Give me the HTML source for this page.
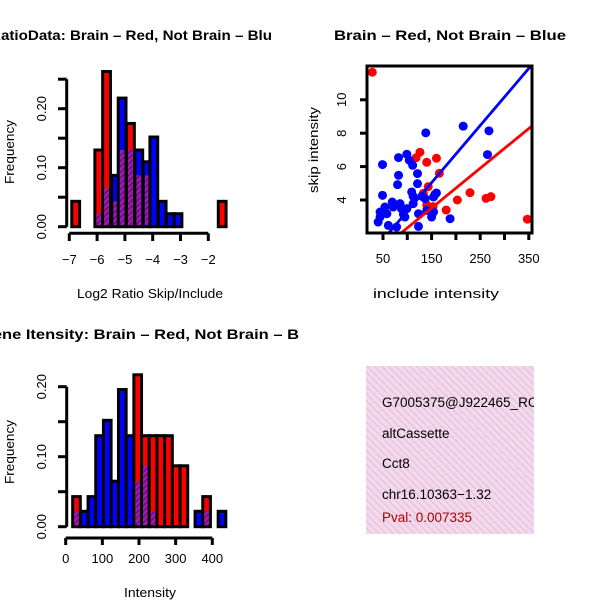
<!DOCTYPE html>
<html><head><meta charset="utf-8"><style>
html,body{margin:0;padding:0;background:#fff}
svg{display:block;font-family:"Liberation Sans",sans-serif}
</style></head><body>
<svg id="c" width="600" height="600" viewBox="0 0 600 600" xmlns="http://www.w3.org/2000/svg">
<defs>
<pattern id="purp" patternUnits="userSpaceOnUse" width="4" height="4" patternTransform="rotate(45)">
<rect width="4" height="4" fill="#7a0a90"/><rect width="2" height="4" fill="#a020b0"/></pattern>
<pattern id="pink" patternUnits="userSpaceOnUse" width="5" height="5" patternTransform="rotate(-45)">
<rect width="5" height="5" fill="#f9d4f4"/><rect width="1.3" height="5" fill="#d6d0c8"/></pattern>
<clipPath id="scClip"><rect x="367" y="66" width="165" height="167"/></clipPath>
<clipPath id="boxClip"><rect x="366" y="366" width="168" height="168"/></clipPath>
</defs>
<g id="p1"></g>
<g id="p2"></g>
<g id="p3"></g>
<g>
<rect x="366" y="366" width="168" height="168" fill="url(#pink)"/>
<g clip-path="url(#boxClip)" font-size="13.5">
<text x="382" y="407">G7005375@J922465_RC</text>
<text x="382" y="438">altCassette</text>
<text x="382" y="468">Cct8</text>
<text x="382" y="499">chr16.10363−1.32</text>
<text x="382" y="522" fill="#b00000">Pval: 0.007335</text>
</g></g>
</svg>
<script>
// ---- ratio histogram data ----
const ratioBins = [-6.91,-6.08,-5.80,-5.47,-5.24,-4.94,-4.64,-4.34,-4.10,-3.80,-3.50,-3.23,-1.64];
const ratioRed  = [0.043,0.13,0.263,0.043,0.13,0.175,0.087,0.087,0,0,0,0,0.043];
const ratioBlue = [0,0.022,0.065,0.087,0.218,0.13,0.13,0.11,0.152,0.043,0.022,0.022,0];
const ratioXTicks = [-7,-6,-5,-4,-3,-2];
const ratioYTicks = [0,0.05,0.10,0.15,0.20,0.25];
const ratioYLabels = ["0.00","0.10","0.20"];
// ---- intensity histogram data ----
const intBins = [19,40,61,82,103,124,144,165,186,207,228,249,270,291,312,332,353,374,395,416];
const intRed  = [0.043,0,0,0,0,0,0,0,0.217,0.13,0.13,0.13,0.13,0.087,0.087,0,0,0.043,0,0];
const intBlue = [0.022,0.022,0.043,0.13,0.152,0.065,0.196,0.13,0.065,0.087,0.022,0,0,0,0,0,0.022,0.022,0,0.022];
const intXTicks = [0,100,200,300,400];
const intYTicks = [0,0.05,0.10,0.15,0.20];
const intYLabels = ["0.00","0.10","0.20"];
// ---- scatter data ----
const redX = [28,126,118,140,160,166,143,140,153,180,203,229,262,272,347,133];
const redY = [11.65,6.86,6.53,6.26,6.5,5.6,4.8,3.7,3.6,3.4,4.0,4.44,4.1,4.2,2.85,4.4];
const blueX = [49,82,99,104,111,138,215,268,265,82,80,121,121,49,109,112,130,157,160,137,154,69,54,44,58,88,99,92,123,140,154,150,188,40,61,78,123,95,71,85,112,44];
const blueY = [6.12,6.54,6.74,6.38,6.08,8.02,8.42,8.14,6.72,5.48,4.92,5.58,4.98,4.28,4.48,4.22,4.22,4.34,4.42,4.08,4.18,3.88,3.58,3.28,3.18,3.48,3.48,3.14,3.18,3.38,3.28,2.98,2.88,2.68,2.48,2.38,2.42,2.98,3.58,3.78,3.78,2.98];
const redFit = [-0.05,0.0238];
const blueFit = [-0.09,0.0342];
const scXTicks = [50,100,150,200,250,300,350];
const scXLabels = ["50","150","250","350"];
const scYTicks = [4,6,8,10];

const NS="http://www.w3.org/2000/svg";
function mk(p,tag,a){const e=document.createElementNS(NS,tag);for(const k in a)e.setAttribute(k,a[k]);p.appendChild(e);return e;}
function txt(p,x,y,s,size,opt){const e=mk(p,'text',{x:x,y:y,'font-size':size,'text-anchor':(opt&&opt.anchor)||'middle'});if(opt&&opt.rot)e.setAttribute('transform','rotate(-90 '+x+' '+y+')');if(opt&&opt.bold)e.setAttribute('font-weight','bold');if(opt&&opt.len){e.setAttribute('textLength',opt.len);e.setAttribute('lengthAdjust','spacingAndGlyphs');}e.textContent=s;return e;}

function hist(g,bins,red,blue,bw,xs,ys,name){
  for(let i=0;i<bins.length;i++){
    const x0=xs(bins[i]),x1=xs(bins[i]+bw),w=x1-x0,y0=ys(0);
    const r=red[i],b=blue[i];
    if(r<=0&&b<=0)continue;
    const mx=Math.max(r,b),mn=Math.min(r,b);
    const col=r>=b?'#ff0000':'#0000ff';
    const bar=mk(g,'rect',{x:x0,y:ys(mx),width:w,height:y0-ys(mx),fill:col,stroke:'#000','stroke-width':3});
    
    
    if(mn>0){
      const pr=mk(g,'rect',{x:x0+1.5,y:ys(mn),width:w-3,height:y0-ys(mn)-1.5,fill:'url(#purp)'});
      
      
    }
  }
}

// Panel 1
(function(){
  const g=document.getElementById('p1');
  const xs=v=>69.3+(v+7)*27.8, ys=f=>226.7-f/0.05*29.5;
  hist(g,ratioBins,ratioRed,ratioBlue,0.28,xs,ys,'ratio');
  mk(g,'line',{x1:66.7,y1:ys(0.25),x2:66.7,y2:ys(0),stroke:'#000','stroke-width':3});
  ratioYTicks.forEach(t=>mk(g,'line',{x1:58,y1:ys(t),x2:66.7,y2:ys(t),stroke:'#000','stroke-width':3}));
  ratioYLabels.forEach(s=>txt(g,46,ys(parseFloat(s)),s,13,{rot:1}));
  mk(g,'line',{x1:xs(-7),y1:233.3,x2:xs(-2),y2:233.3,stroke:'#000','stroke-width':3});
  ratioXTicks.forEach(t=>{mk(g,'line',{x1:xs(t),y1:233.3,x2:xs(t),y2:241,stroke:'#000','stroke-width':3});txt(g,xs(t),264,String(t).replace('-','−'),13);});
  const t=txt(g,-10,40,'RatioData: Brain – Red, Not Brain – Blu',14,{anchor:'start',bold:1,len:282});
  
  
  txt(g,150,298,'Log2 Ratio Skip/Include',13,{len:146});
  txt(g,14,152,'Frequency',13,{rot:1,len:64});
})();

// Panel 3
(function(){
  const g=document.getElementById('p3');
  const xs=v=>65.7+v*0.3665, ys=f=>526.7-f/0.05*35;
  hist(g,intBins,intRed,intBlue,20.9,xs,ys,'intensity');
  mk(g,'line',{x1:66.7,y1:ys(0.2),x2:66.7,y2:ys(0),stroke:'#000','stroke-width':3});
  intYTicks.forEach(t=>mk(g,'line',{x1:58,y1:ys(t),x2:66.7,y2:ys(t),stroke:'#000','stroke-width':3}));
  intYLabels.forEach(s=>txt(g,46,ys(parseFloat(s)),s,13,{rot:1}));
  mk(g,'line',{x1:xs(0),y1:538,x2:xs(400),y2:538,stroke:'#000','stroke-width':3});
  intXTicks.forEach(t=>{mk(g,'line',{x1:xs(t),y1:538,x2:xs(t),y2:545,stroke:'#000','stroke-width':3});txt(g,xs(t),563,String(t),13);});
  const t=txt(g,-20,339,'Gene Itensity: Brain – Red, Not Brain – B',14,{anchor:'start',bold:1,len:319});
  
  
  txt(g,150,597,'Intensity',13,{len:52});
  txt(g,14,452,'Frequency',13,{rot:1,len:64});
})();

// Panel 2
(function(){
  const g=document.getElementById('p2');
  const xs=v=>383+(v-50)*24.3/50, ys=v=>200-(v-4)*16.7;
  const c=mk(g,'g',{'clip-path':'url(#scClip)'});
  redX.forEach((x,i)=>{const p=mk(c,'circle',{cx:xs(x),cy:ys(redY[i]),r:4.5,fill:'#ff0000'});
    
    });
  blueX.forEach((x,i)=>{const p=mk(c,'circle',{cx:xs(x),cy:ys(blueY[i]),r:4.5,fill:'#0000ff'});
    
    });
  [[redFit,'#ff0000','red-fit-line'],[blueFit,'#0000ff','blue-fit-line']].forEach(([f,col,n])=>{
    const l=mk(c,'line',{x1:xs(0),y1:ys(f[0]),x2:xs(400),y2:ys(f[0]+f[1]*400),stroke:col,'stroke-width':2.8});
    
    
  });
  mk(g,'rect',{x:367,y:66,width:165,height:167,fill:'none',stroke:'#000','stroke-width':3});
  scXTicks.forEach(t=>mk(g,'line',{x1:xs(t),y1:233,x2:xs(t),y2:240,stroke:'#000','stroke-width':3}));
  scXLabels.forEach(s=>txt(g,xs(+s),263,s,13));
  scYTicks.forEach(t=>{mk(g,'line',{x1:360,y1:ys(t),x2:367,y2:ys(t),stroke:'#000','stroke-width':3});txt(g,346,ys(t),String(t),13,{rot:1});});
  const t=txt(g,450,40,'Brain – Red, Not Brain – Blue',14,{bold:1,len:232});
  
  
  txt(g,436,298,'include intensity',13,{len:126});
  txt(g,318,150,'skip intensity',13,{rot:1,len:86});
})();
</script>
</body></html>
